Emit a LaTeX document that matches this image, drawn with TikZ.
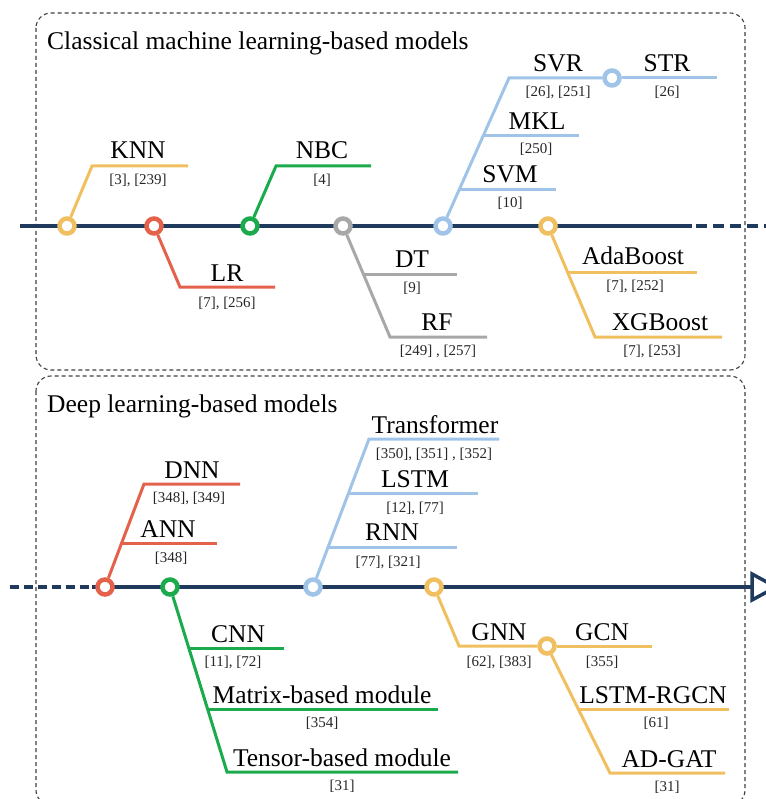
\documentclass[tikz,border=0pt]{standalone}
\usepackage{fontspec}
\setmainfont{Liberation Serif}
\definecolor{navy}{HTML}{1F3A5C}
\definecolor{yel}{HTML}{F0C060}
\definecolor{redc}{HTML}{E4614B}
\definecolor{grn}{HTML}{1BAA4C}
\definecolor{gry}{HTML}{A8A8A8}
\definecolor{blu}{HTML}{A0C4E8}
\begin{document}
\begin{tikzpicture}[x=1pt,y=-1pt,
  axisline/.style={draw=navy,line width=4pt},
  hub/.style={circle,draw=#1,fill=white,line width=4.5pt,minimum size=15pt,inner sep=0pt},
  br/.style={draw=#1,line width=3pt},
  lab/.style={anchor=base,inner sep=0pt,font=\fontsize{25.5}{30}\selectfont},
  cit/.style={anchor=base,inner sep=0pt,font=\fontsize{15}{18}\selectfont,text=black!85},
  panel/.style={draw=black!75,line width=1.1pt,rounded corners=15pt,dash pattern=on 4pt off 3pt},
  ttl/.style={anchor=base west,inner sep=0pt,font=\fontsize{25.5}{30}\selectfont}]
\useasboundingbox (0,0) rectangle (765,799);

% panels
\draw[panel] (36,13) rectangle (745,370);
\draw[panel] (36,376) rectangle (745,805);
\node[ttl] (t1) at (47,50) {Classical machine learning-based models};
\node[ttl] (t2) at (47,412) {Deep learning-based models};

% ---------- top axis ----------
\coordinate (a1s) at (20,226);
\coordinate (a1e) at (692,226);
\coordinate (a1f) at (696,226);
\coordinate (a1d) at (768,226);
\draw[axisline] (a1s) -- (a1e);
\draw[axisline,dash pattern=on 11pt off 6pt] (a1f) -- (a1d);

\node[hub=yel] (knn) at (67,226) {};
\node[hub=redc] (lr) at (154,226) {};
\node[hub=grn] (nbc) at (250,226) {};
\node[hub=gry] (dt) at (343,226) {};
\node[hub=blu] (svm) at (443,226) {};
\node[hub=yel] (ada) at (548,226) {};
\node[hub=blu] (str) at (612,78) {};

% KNN
\coordinate (knn1) at (92,166); \coordinate (knn2) at (188,166);
\draw[br=yel] (knn) -- (knn1) -- (knn2);
\node[lab] (knnL) at (138,159) {KNN};
\node[cit] (knnC) at (138,185) {[3], [239]};
% LR
\coordinate (lr1) at (180,287); \coordinate (lr2) at (275,287);
\draw[br=redc] (lr) -- (lr1) -- (lr2);
\node[lab] (lrL) at (227,281) {LR};
\node[cit] (lrC) at (227,307) {[7], [256]};
% NBC
\coordinate (nbc1) at (276,166); \coordinate (nbc2) at (371,166);
\draw[br=grn] (nbc) -- (nbc1) -- (nbc2);
\node[lab] (nbcL) at (322,159) {NBC};
\node[cit] (nbcC) at (322,185) {[4]};
% DT / RF
\coordinate (rf1) at (390,337); \coordinate (rf2) at (487,337);
\coordinate (dt1) at (363,274); \coordinate (dt2) at (457,274);
\draw[br=gry] (dt) -- (rf1) -- (rf2);
\draw[br=gry] (dt1) -- (dt2);
\node[lab] (dtL) at (412,267) {DT};
\node[cit] (dtC) at (412,292) {[9]};
\node[lab] (rfL) at (437,330) {RF};
\node[cit] (rfC) at (438,355) {[249] , [257]};
% SVM / MKL / SVR / STR
\coordinate (svr1) at (509,78); \coordinate (str2) at (717,78);
\coordinate (mkl1) at (483,136); \coordinate (mkl2) at (579,136);
\coordinate (svm1) at (459,190); \coordinate (svm2) at (556,190);
\draw[br=blu] (svm) -- (svr1) -- (str);
\draw[br=blu] (str) -- (str2);
\draw[br=blu] (mkl1) -- (mkl2);
\draw[br=blu] (svm1) -- (svm2);
\node[lab] (svrL) at (558,72) {SVR};
\node[cit] (svrC) at (558,97) {[26], [251]};
\node[lab] (strL) at (667,72) {STR};
\node[cit] (strC) at (667,97) {[26]};
\node[lab] (mklL) at (537,130) {MKL};
\node[cit] (mklC) at (536,154) {[250]};
\node[lab] (svmL) at (510,183) {SVM};
\node[cit] (svmC) at (510,208) {[10]};
% AdaBoost / XGBoost
\coordinate (xgb1) at (595,337); \coordinate (xgb2) at (722,337);
\coordinate (ada1) at (567,272); \coordinate (ada2) at (697,272);
\draw[br=yel] (ada) -- (xgb1) -- (xgb2);
\draw[br=yel] (ada1) -- (ada2);
\node[lab] (adaL) at (633,265) {AdaBoost};
\node[cit] (adaC) at (635,290) {[7], [252]};
\node[lab] (xgbL) at (660,330) {XGBoost};
\node[cit] (xgbC) at (652,355) {[7], [253]};

% ---------- bottom axis ----------
\coordinate (b1s) at (10,587);
\coordinate (b1d) at (92,587);
\coordinate (b1e) at (751,587);
\draw[axisline,dash pattern=on 9pt off 5pt] (b1s) -- (b1d);
\draw[axisline] (b1d) -- (b1e);
\coordinate (tri1) at (752,574); \coordinate (tri2) at (752,600); \coordinate (tri3) at (776,587);
\draw[navy,line width=3.5pt,fill=white,line join=miter] (tri1) -- (tri2) -- (tri3) -- cycle;

\node[hub=redc] (dnn) at (105,587) {};
\node[hub=grn] (cnn) at (170,587) {};
\node[hub=blu] (rnn) at (313,587) {};
\node[hub=yel] (gnn) at (434,587) {};
\node[hub=yel] (gcn) at (547,646) {};

% DNN / ANN
\coordinate (dnn1) at (144,484); \coordinate (dnn2) at (240,484);
\coordinate (ann1) at (122,543); \coordinate (ann2) at (217,543);
\draw[br=redc] (dnn) -- (dnn1) -- (dnn2);
\draw[br=redc] (ann1) -- (ann2);
\node[lab] (dnnL) at (192,478) {DNN};
\node[cit] (dnnC) at (189,502) {[348], [349]};
\node[lab] (annL) at (168,537) {ANN};
\node[cit] (annC) at (171,562) {[348]};
% CNN / Matrix / Tensor
\coordinate (ten1) at (227,772); \coordinate (ten2) at (458,772);
\coordinate (cnn1) at (189,648); \coordinate (cnn2) at (284,648);
\coordinate (mat1) at (208,709); \coordinate (mat2) at (438,709);
\draw[br=grn] (cnn) -- (ten1) -- (ten2);
\draw[br=grn] (cnn1) -- (cnn2);
\draw[br=grn] (mat1) -- (mat2);
\node[lab] (cnnL) at (238,642) {CNN};
\node[cit] (cnnC) at (233,666) {[11], [72]};
\node[lab] (matL) at (322,703) {Matrix-based module};
\node[cit] (matC) at (322,727) {[354]};
\node[lab] (tenL) at (342,766) {Tensor-based module};
\node[cit] (tenC) at (342,790) {[31]};
% Transformer / LSTM / RNN
\coordinate (trf1) at (369,439); \coordinate (trf2) at (499,439);
\coordinate (lstm1) at (348,493); \coordinate (lstm2) at (478,493);
\coordinate (rnn1) at (328,547); \coordinate (rnn2) at (457,547);
\draw[br=blu] (rnn) -- (trf1) -- (trf2);
\draw[br=blu] (lstm1) -- (lstm2);
\draw[br=blu] (rnn1) -- (rnn2);
\node[lab] (trfL) at (435,433) {Transformer};
\node[cit] (trfC) at (434,458) {[350], [351] , [352]};
\node[lab] (lstmL) at (415,487) {LSTM};
\node[cit] (lstmC) at (415,512) {[12], [77]};
\node[lab] (rnnL) at (392,540) {RNN};
\node[cit] (rnnC) at (388,566) {[77], [321]};
% GNN / GCN / LSTM-RGCN / AD-GAT
\coordinate (gnn1) at (459,646);
\coordinate (gcn2) at (652,646);
\coordinate (gat1) at (610,773); \coordinate (gat2) at (725,773);
\coordinate (rg1) at (578,709); \coordinate (rg2) at (729,709);
\draw[br=yel] (gnn) -- (gnn1) -- (gcn);
\draw[br=yel] (gcn) -- (gcn2);
\draw[br=yel] (gcn) -- (gat1) -- (gat2);
\draw[br=yel] (rg1) -- (rg2);
\node[lab] (gnnL) at (499,640) {GNN};
\node[cit] (gnnC) at (499,666) {[62], [383]};
\node[lab] (gcnL) at (602,640) {GCN};
\node[cit] (gcnC) at (602,666) {[355]};
\node[lab] (rgL) at (653,703) {LSTM-RGCN};
\node[cit] (rgC) at (656,727) {[61]};
\node[lab] (gatL) at (669,767) {AD-GAT};
\node[cit] (gatC) at (667,791) {[31]};
\end{tikzpicture}
\end{document}
